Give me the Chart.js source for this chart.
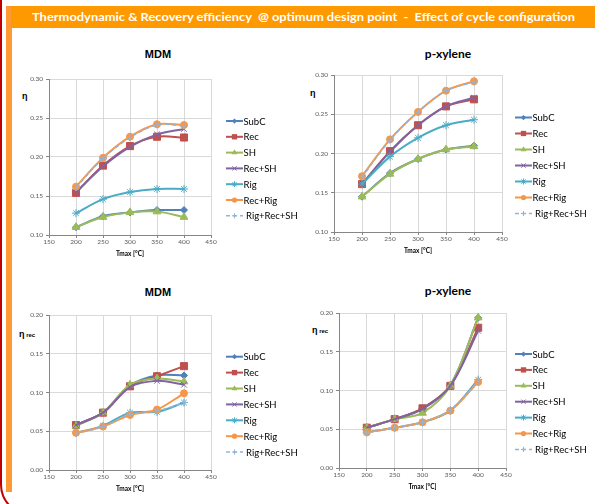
<!DOCTYPE html>
<html>
<head>
<meta charset="utf-8">
<script src="https://cdn.jsdelivr.net/npm/chart.js@4/dist/chart.umd.min.js"></script>
<style>
  html,body{margin:0;padding:0;background:#fff;}
  #page{position:relative;width:595px;height:504px;overflow:hidden;background:#fff;font-family:Lato,"Open Sans",sans-serif;}
  .abs{position:absolute;}
  canvas{position:absolute;}
  #redline{position:absolute;left:0;top:-1000px;width:1200px;height:1515px;border-left:2px solid #C00000;border-bottom:2px solid #C00000;border-bottom-left-radius:30px;box-sizing:border-box;}
  #strip{position:absolute;left:6px;top:6px;width:6px;height:486px;background:#FF9933;}
  #bar{position:absolute;left:11px;top:6px;width:584px;height:22px;background:#FF9900;}
  #hdr{position:absolute;left:32px;top:8px;white-space:pre;color:#fff;font:bold 12px Lato,sans-serif;line-height:18px;transform-origin:0 50%;}
  .ttl{position:absolute;font-weight:bold;color:#000;transform:translate(-50%,-50%);white-space:nowrap;}
  .eta{position:absolute;font-weight:bold;color:#000;font-family:"Liberation Sans",Arial,sans-serif;white-space:nowrap;}
</style>
</head>
<body>
<div id="page">
  <div id="redline"></div>
  <div id="strip"></div>
  <div id="bar"></div>
  <div id="hdr">Thermodynamic &amp; Recovery efficiency  @ optimum design point  -  Effect of cycle configuration</div>

  <div class="ttl" style="left:158px;top:54px;font:bold 11px 'Liberation Sans',Arial,sans-serif;">MDM</div>
  <div class="ttl" style="left:448px;top:53px;font:bold 12px Lato,sans-serif;">p-xylene</div>
  <div class="ttl" style="left:158px;top:292px;font:bold 11px 'Liberation Sans',Arial,sans-serif;">MDM</div>
  <div class="ttl" style="left:448px;top:290px;font:bold 12px Lato,sans-serif;">p-xylene</div>

  <div class="eta" style="left:22px;top:91px;font-size:9px;">η</div>
  <div class="eta" style="left:310px;top:88px;font-size:9px;">η</div>
  <div class="eta" style="left:19px;top:329px;font-size:9px;">η<span style="font-size:6px;"> rec</span></div>
  <div class="eta" style="left:312px;top:325px;font-size:9px;">η<span style="font-size:6px;"> rec</span></div>

  <canvas id="c1"></canvas>
  <canvas id="c2"></canvas>
  <canvas id="c3"></canvas>
  <canvas id="c4"></canvas>
</div>
<script>
// ---------- DATA ----------
const tmax = [200, 250, 300, 350, 400];
const seriesNames = ["SubC", "Rec", "SH", "Rec+SH", "Rig", "Rec+Rig", "Rig+Rec+SH"];

// Thermodynamic efficiency, MDM
const mdmEta_SubC     = [0.110, 0.124, 0.129, 0.132, 0.132];
const mdmEta_Rec      = [0.154, 0.189, 0.214, 0.226, 0.225];
const mdmEta_SH       = [0.110, 0.123, 0.129, 0.130, 0.123];
const mdmEta_RecSH    = [0.155, 0.188, 0.213, 0.229, 0.236];
const mdmEta_Rig      = [0.128, 0.146, 0.155, 0.159, 0.159];
const mdmEta_RecRig   = [0.162, 0.199, 0.226, 0.242, 0.241];
const mdmEta_RigRecSH = [0.161, 0.198, 0.225, 0.241, 0.240];

// Thermodynamic efficiency, p-xylene
const pxEta_SubC     = [0.145, 0.175, 0.193, 0.205, 0.210];
const pxEta_Rec      = [0.161, 0.203, 0.236, 0.260, 0.269];
const pxEta_SH       = [0.145, 0.174, 0.193, 0.205, 0.209];
const pxEta_RecSH    = [0.161, 0.202, 0.236, 0.260, 0.271];
const pxEta_Rig      = [0.161, 0.196, 0.220, 0.236, 0.243];
const pxEta_RecRig   = [0.171, 0.218, 0.253, 0.280, 0.292];
const pxEta_RigRecSH = [0.170, 0.217, 0.253, 0.280, 0.291];

// Recovery efficiency, MDM
const mdmRec_SubC     = [0.058, 0.074, 0.109, 0.122, 0.122];
const mdmRec_Rec      = [0.058, 0.074, 0.108, 0.121, 0.134];
const mdmRec_SH       = [0.057, 0.074, 0.110, 0.118, 0.114];
const mdmRec_RecSH    = [0.058, 0.074, 0.107, 0.115, 0.110];
const mdmRec_Rig      = [0.048, 0.057, 0.074, 0.075, 0.087];
const mdmRec_RecRig   = [0.048, 0.056, 0.071, 0.078, 0.099];
const mdmRec_RigRecSH = [0.047, 0.056, 0.072, 0.076, 0.087];

// Recovery efficiency, p-xylene
const pxRec_SubC     = [0.052, 0.063, 0.077, 0.107, 0.194];
const pxRec_Rec      = [0.052, 0.063, 0.077, 0.106, 0.181];
const pxRec_SH       = [0.052, 0.063, 0.071, 0.106, 0.194];
const pxRec_RecSH    = [0.052, 0.063, 0.076, 0.106, 0.177];
const pxRec_Rig      = [0.046, 0.052, 0.059, 0.074, 0.114];
const pxRec_RecRig   = [0.046, 0.052, 0.059, 0.074, 0.111];
const pxRec_RigRecSH = [0.046, 0.052, 0.059, 0.075, 0.112];

const xTicks = [150, 200, 250, 300, 350, 400, 450];
const etaTicks = [0.10, 0.15, 0.20, 0.25, 0.30];
const recTicks = [0.00, 0.05, 0.10, 0.15, 0.20];

// ---------- STYLES ----------
const styles = [
  {color:"#4F81BD", point:"rectRot",  r:3.5},
  {color:"#C0504D", point:"rect",     r:5},
  {color:"#9BBB59", point:"triangle", r:4.5},
  {color:"#8064A2", point:"crossRot", r:4},
  {color:"#4BACC6", point:"star",     r:4},
  {color:"#F79646", point:"circle",   r:3.5},
  {color:"#95B3D7", point:"cross",    r:3.5, dash:[4,3]}
];

function buildDatasets(arrs){
  return arrs.map((vals,i)=>{
    const s = styles[i];
    return {
      label: seriesNames[i],
      data: tmax.map((x,k)=>({x:x, y:vals[k]})),
      borderColor: s.color,
      backgroundColor: s.color,
      pointBackgroundColor: s.color,
      pointBorderColor: s.color,
      borderWidth: s.dash ? 1.5 : 2,
      borderDash: s.dash || [],
      pointStyle: s.point,
      pointRadius: s.r,
      pointBorderWidth: 1,
      tension: 0.33,
      order: arrs.length - i
    };
  });
}

function drawMarker(ctx, style, r, x, y, color){
  ctx.save();
  ctx.fillStyle = color; ctx.strokeStyle = color; ctx.lineWidth = 1;
  ctx.beginPath();
  if (style === "circle"){ ctx.arc(x,y,r,0,Math.PI*2); ctx.fill(); }
  else if (style === "rect"){ const s=r*Math.SQRT1_2; ctx.rect(x-s,y-s,2*s,2*s); ctx.fill(); }
  else if (style === "rectRot"){ ctx.moveTo(x,y-r); ctx.lineTo(x+r,y); ctx.lineTo(x,y+r); ctx.lineTo(x-r,y); ctx.closePath(); ctx.fill(); }
  else if (style === "triangle"){ ctx.moveTo(x,y-r); ctx.lineTo(x+r*0.866,y+r*0.5); ctx.lineTo(x-r*0.866,y+r*0.5); ctx.closePath(); ctx.fill(); }
  else if (style === "crossRot"){ const s=r*0.707; ctx.moveTo(x-s,y-s); ctx.lineTo(x+s,y+s); ctx.moveTo(x+s,y-s); ctx.lineTo(x-s,y+s); ctx.stroke(); }
  else if (style === "cross"){ ctx.moveTo(x-r,y); ctx.lineTo(x+r,y); ctx.moveTo(x,y-r); ctx.lineTo(x,y+r); ctx.stroke(); }
  else if (style === "star"){ const s=r*0.707; ctx.moveTo(x-r,y); ctx.lineTo(x+r,y); ctx.moveTo(x,y-r); ctx.lineTo(x,y+r); ctx.moveTo(x-s,y-s); ctx.lineTo(x+s,y+s); ctx.moveTo(x+s,y-s); ctx.lineTo(x-s,y+s); ctx.stroke(); }
  ctx.restore();
}

const legendPlugin = {
  id: "xlLegend",
  afterDraw(chart, args, opts){
    const ctx = chart.ctx;
    ctx.save();
    chart.data.datasets.forEach((ds,i)=>{
      const s = styles[i];
      const y = opts.y + i*opts.dy;
      const x0 = opts.x, x1 = opts.x + opts.len;
      ctx.strokeStyle = s.color;
      ctx.lineWidth = s.dash ? 1.5 : 2;
      ctx.setLineDash(s.dash || []);
      ctx.beginPath(); ctx.moveTo(x0,y); ctx.lineTo(x1,y); ctx.stroke();
      ctx.setLineDash([]);
      drawMarker(ctx, s.point, s.r*0.75, (x0+x1)/2, y, s.color);
      ctx.fillStyle = "#000";
      ctx.font = "9.5px Lato, sans-serif";
      ctx.textBaseline = "middle";
      ctx.textAlign = "left";
      ctx.fillText(ds.label, x1 + (s.dash ? 3 : 0.5), y+0.5);
    });
    ctx.restore();
  }
};

function makeChart(id, box, plot, yTicks, arrs, legend){
  const cv = document.getElementById(id);
  cv.width = box.w; cv.height = box.h;
  cv.style.left = box.x + "px"; cv.style.top = box.y + "px";
  cv.style.width = box.w + "px"; cv.style.height = box.h + "px";
  const Ya = 30, Xh = 23;
  const pad = {
    top: plot.t - box.y,
    left: plot.l - box.x - Ya,
    right: box.x + box.w - plot.r,
    bottom: box.y + box.h - plot.b - Xh
  };
  const tickFont = {family: "Lato, sans-serif", size: 6.5};
  new Chart(cv.getContext("2d"), {
    type: "line",
    data: { datasets: buildDatasets(arrs) },
    plugins: [legendPlugin],
    options: {
      responsive: false,
      animation: false,
      devicePixelRatio: 1,
      layout: { padding: pad, autoPadding: false },
      plugins: {
        legend: {display:false},
        tooltip: {enabled:false},
        title: {display:false},
        xlLegend: { x: legend.x - box.x, y: legend.y - box.y, dy: legend.dy, len: 17 }
      },
      scales: {
        x: {
          type: "linear",
          min: xTicks[0], max: xTicks[xTicks.length-1],
          afterBuildTicks: (s)=>{ s.ticks = xTicks.map(v=>({value:v})); },
          afterFit: (s)=>{ s.height = Xh; },
          grid: { color:"#D9D9D9", lineWidth:1, tickLength:3, tickColor:"#868686" },
          border: { color:"#868686", width:1 },
          ticks: { font: tickFont, color:"#595959", padding:0, maxRotation:0, autoSkip:false, callback:(v)=>String(v) },
          title: { display:true, text:"Tmax [°C]", font:{family:"Lato, sans-serif", size:6.5, weight:"bold"}, color:"#000", padding:{top:0,bottom:0} }
        },
        y: {
          type: "linear",
          min: yTicks[0], max: yTicks[yTicks.length-1],
          afterBuildTicks: (s)=>{ s.ticks = yTicks.map(v=>({value:v})); },
          afterFit: (s)=>{ s.width = Ya; },
          grid: { color:"#D9D9D9", lineWidth:1, tickLength:3, tickColor:"#868686" },
          border: { color:"#868686", width:1 },
          ticks: { font: tickFont, color:"#595959", padding:3, autoSkip:false, callback:(v)=>Number(v).toFixed(2) }
        }
      }
    }
  });
}

makeChart("c1", {x:0, y:60, w:300, h:210}, {l:49, t:79, r:211, b:235}, etaTicks,
  [mdmEta_SubC, mdmEta_Rec, mdmEta_SH, mdmEta_RecSH, mdmEta_Rig, mdmEta_RecRig, mdmEta_RigRecSH],
  {x:226, y:121, dy:15.8});
makeChart("c2", {x:300, y:60, w:295, h:210}, {l:334, t:75, r:502, b:232}, etaTicks,
  [pxEta_SubC, pxEta_Rec, pxEta_SH, pxEta_RecSH, pxEta_Rig, pxEta_RecRig, pxEta_RigRecSH],
  {x:515, y:117.5, dy:16});
makeChart("c3", {x:0, y:296, w:300, h:208}, {l:49, t:315, r:211, b:470}, recTicks,
  [mdmRec_SubC, mdmRec_Rec, mdmRec_SH, mdmRec_RecSH, mdmRec_Rig, mdmRec_RecRig, mdmRec_RigRecSH],
  {x:226, y:356.7, dy:15.9});
makeChart("c4", {x:300, y:296, w:295, h:208}, {l:339, t:313, r:506, b:468}, recTicks,
  [pxRec_SubC, pxRec_Rec, pxRec_SH, pxRec_RecSH, pxRec_Rig, pxRec_RecRig, pxRec_RigRecSH],
  {x:515, y:354, dy:15.9});

// fit header text width
(function(){
  const h = document.getElementById("hdr");
  const w = h.getBoundingClientRect().width;
  const target = 543;
  h.style.transform = "scaleX(" + (target / w) + ")";
})();
</script>
</body>
</html>
